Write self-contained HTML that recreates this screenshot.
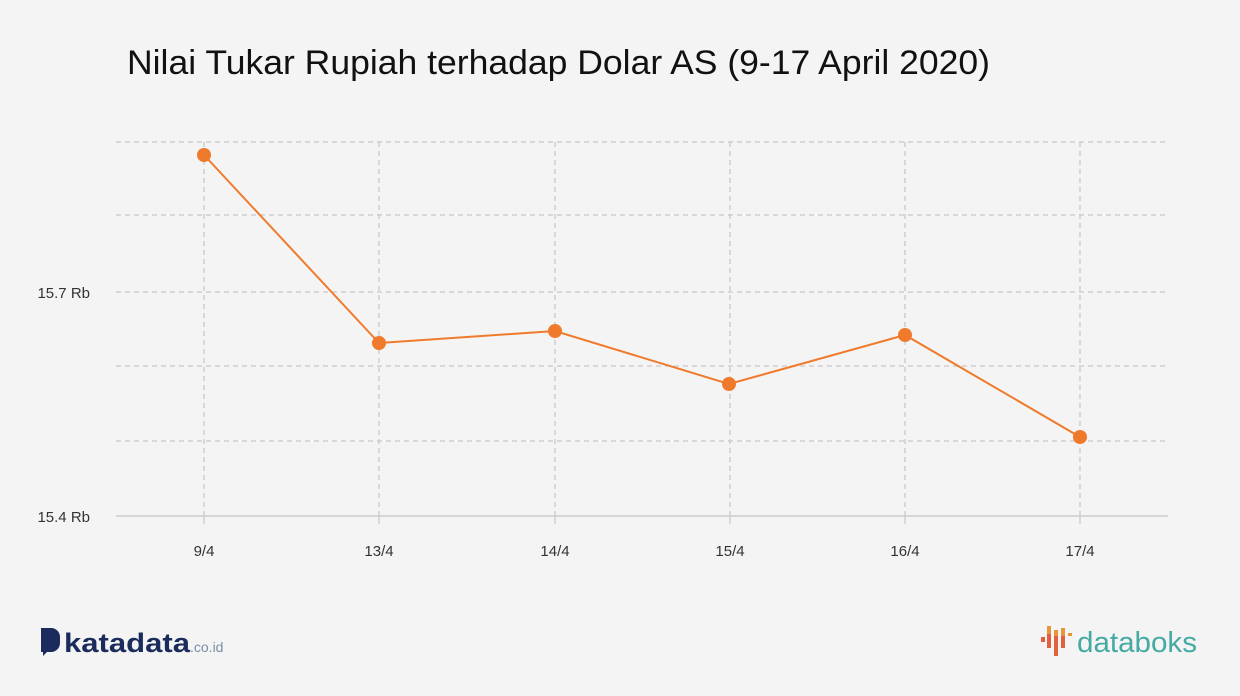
<!DOCTYPE html>
<html><head><meta charset="utf-8"><style>
body{margin:0;background:#f4f4f4;}
svg{display:block;font-family:"Liberation Sans",sans-serif;}
</style></head><body>
<svg width="1240" height="696" viewBox="0 0 1240 696">
<rect width="1240" height="696" fill="#f4f4f4"/>
<text x="127" y="74" font-size="34" fill="#111" textLength="863" lengthAdjust="spacingAndGlyphs">Nilai Tukar Rupiah terhadap Dolar AS (9-17 April 2020)</text>
<g stroke="#c8c8c8" stroke-width="1.3" stroke-dasharray="5,4" fill="none">
<line x1="116" y1="142" x2="1168" y2="142"/>
<line x1="116" y1="215" x2="1168" y2="215"/>
<line x1="116" y1="292" x2="1168" y2="292"/>
<line x1="116" y1="366" x2="1168" y2="366"/>
<line x1="116" y1="441" x2="1168" y2="441"/>
<line x1="204" y1="142" x2="204" y2="516"/>
<line x1="379" y1="142" x2="379" y2="516"/>
<line x1="555" y1="142" x2="555" y2="516"/>
<line x1="730" y1="142" x2="730" y2="516"/>
<line x1="905" y1="142" x2="905" y2="516"/>
<line x1="1080" y1="142" x2="1080" y2="516"/>
</g>
<line x1="116" y1="516" x2="1168" y2="516" stroke="#ccc" stroke-width="1.5"/>
<g stroke="#ccc" stroke-width="1.3">
<line x1="204" y1="516" x2="204" y2="524"/><line x1="379" y1="516" x2="379" y2="524"/>
<line x1="555" y1="516" x2="555" y2="524"/><line x1="730" y1="516" x2="730" y2="524"/>
<line x1="905" y1="516" x2="905" y2="524"/><line x1="1080" y1="516" x2="1080" y2="524"/>
</g>
<g font-size="15" fill="#333">
<text x="90" y="298" text-anchor="end">15.7 Rb</text>
<text x="90" y="522" text-anchor="end">15.4 Rb</text>
</g>
<g font-size="15" fill="#333" text-anchor="middle">
<text x="204" y="556">9/4</text><text x="379" y="556">13/4</text><text x="555" y="556">14/4</text>
<text x="730" y="556">15/4</text><text x="905" y="556">16/4</text><text x="1080" y="556">17/4</text>
</g>
<polyline points="204,155 379,343 555,331 729,384 905,335 1080,437" fill="none" stroke="#f07a2b" stroke-width="2"/>
<g fill="#f07a2b">
<circle cx="204" cy="155" r="7"/><circle cx="379" cy="343" r="7"/><circle cx="555" cy="331" r="7"/>
<circle cx="729" cy="384" r="7"/><circle cx="905" cy="335" r="7"/><circle cx="1080" cy="437" r="7"/>
</g>
<path d="M41 628 h10 a9 9 0 0 1 9 9 v6 a9 9 0 0 1 -9 9 h-4 l-4 4 v-4 h-2 z" fill="#1a2b5c"/>
<text x="64" y="652" font-size="27" font-weight="bold" fill="#1a2b5c" textLength="126" lengthAdjust="spacingAndGlyphs">katadata</text>
<text x="190" y="652" font-size="14" fill="#7a8fa6">.co.id</text>
<g>
<rect x="1041" y="637" width="4" height="5" fill="#e06040"/>
<rect x="1047" y="626" width="4" height="8" fill="#e6953a"/>
<rect x="1047" y="634" width="4" height="14" fill="#e06040"/>
<rect x="1054" y="630" width="4" height="6" fill="#e6953a"/>
<rect x="1054" y="636" width="4" height="20" fill="#e06040"/>
<rect x="1061" y="628" width="4" height="8" fill="#e6953a"/>
<rect x="1061" y="636" width="4" height="12" fill="#e06040"/>
<rect x="1068" y="633" width="4" height="3" fill="#e6953a"/>
</g>
<text x="1077" y="652" font-size="29" fill="#45aaa3" textLength="120" lengthAdjust="spacingAndGlyphs">databoks</text>
</svg>
</body></html>
